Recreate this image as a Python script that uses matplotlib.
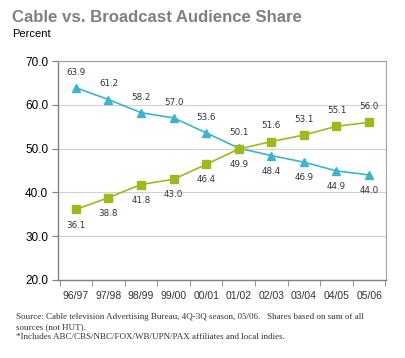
import numpy as np
import matplotlib
matplotlib.use("Agg")
import matplotlib.pyplot as plt

seasons = ["96/97", "97/98", "98/99", "99/00", "00/01",
           "01/02", "02/03", "03/04", "04/05", "05/06"]
broadcast = [63.9, 61.2, 58.2, 57.0, 53.6, 50.1, 48.4, 46.9, 44.9, 44.0]
cable = [36.1, 38.8, 41.8, 43.0, 46.4, 49.9, 51.6, 53.1, 55.1, 56.0]

blue = "#3ab4cf"
green = "#9bbb1c"

fig = plt.figure(figsize=(4.06, 3.58), dpi=100)
ax = fig.add_axes([58 / 406, 1 - 280 / 358, 328 / 406, 219 / 358])

x = np.arange(len(seasons))
ax.plot(x, broadcast, color=blue, marker="^", markersize=6, linewidth=1.2, zorder=3)
ax.plot(x, cable, color=green, marker="s", markersize=6, linewidth=1.2, zorder=3)

# value labels: broadcast above until crossover, cable below until crossover
for i in x:
    b_up = i <= 5
    ax.annotate(f"{broadcast[i]:.1f}", (i, broadcast[i]),
                xytext=(0, 8 if b_up else -8), textcoords="offset points",
                ha="center", va="bottom" if b_up else "top",
                fontsize=6.3, color="#333333")
    ax.annotate(f"{cable[i]:.1f}", (i, cable[i]),
                xytext=(0, -8 if b_up else 8), textcoords="offset points",
                ha="center", va="top" if b_up else "bottom",
                fontsize=6.3, color="#333333")

ax.set_xlim(-0.55, 9.52)
ax.set_ylim(20, 70)
ax.set_yticks(np.arange(20, 71, 10))
ax.set_yticklabels([f"{v:.1f}" for v in np.arange(20, 71, 10)],
                   fontsize=8.5, family="Liberation Sans")
ax.set_xticks(x)
ax.set_xticklabels(seasons, fontsize=7.5, color="#333333", family="Liberation Sans")
ax.set_xticks(np.arange(-0.5, 9.6, 1), minor=True)
ax.tick_params(axis="x", which="major", length=0, pad=8)
ax.tick_params(axis="x", which="minor", length=4, color="#808080", direction="out")
ax.tick_params(axis="y", length=4, color="#808080", direction="out", pad=3)
ax.grid(axis="y", color="#d0d0d0", linewidth=0.8)
ax.set_axisbelow(True)
for side in ["top", "right"]:
    ax.spines[side].set_color("#a0a0a0")
for side in ["left", "bottom"]:
    ax.spines[side].set_color("#808080")
    ax.spines[side].set_linewidth(1.0)

fig.text(12 / 406, 1 - 17 / 358, "Cable vs. Broadcast Audience Share",
         fontsize=12.1, fontweight="bold", color="#808080", va="center",
         family="Liberation Sans")
fig.text(12 / 406, 1 - 34 / 358, "Percent", fontsize=8, color="black", va="center",
         family="Liberation Sans")

foot = ("Source: Cable television Advertising Bureau, 4Q-3Q season, 05/06.   Shares based on sum of all\n"
        "sources (not HUT).\n"
        "*Includes ABC/CBS/NBC/FOX/WB/UPN/PAX affiliates and local indies.")
fig.text(16 / 406, 1 - 313 / 358, foot, fontsize=6.5, family="Liberation Serif",
         color="#333333", va="top", linespacing=1.35)

fig.savefig("out.png", dpi=100, facecolor="white")
